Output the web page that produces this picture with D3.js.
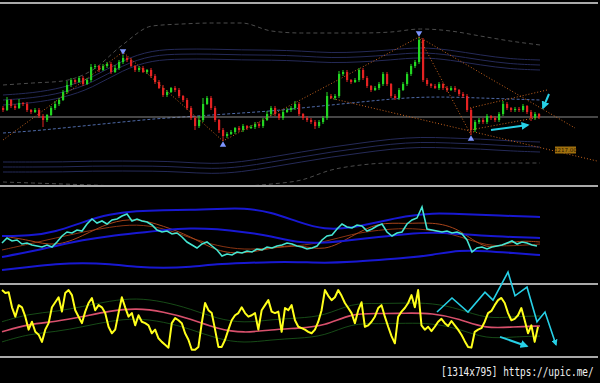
<!DOCTYPE html>
<html>
<head>
<meta charset="utf-8">
<script src="https://cdn.jsdelivr.net/npm/d3@7"></script>
<style>body{margin:0;background:#000}</style>
</head>
<body>
<div id="chart"></div>
<script>
// candle closes (open = previous close)
const closes = [1237,1242,1239,1238,1240.5,1240,1237,1236,1237,1234,
  1232,1234.5,1238,1240,1242,1246,1249.5,1252,1251,1253,
  1250,1252,1258.5,1259,1257,1259,1260,1256,1258,1261,
  1263,1262,1259,1257,1258,1256,1257,1254,1251,1248,
  1244.5,1246,1248,1247,1244,1242,1238,1233,1229,1232,
  1240,1243,1238,1232,1227,1224,1225,1226,1228,1227,
  1229,1228,1228.5,1230,1229,1232,1235,1238,1235,1233,
  1236,1237,1238,1240,1235,1233,1232,1231,1229,1231,
  1233,1244,1243,1244,1255,1256,1252,1251,1252,1257,
  1253,1249,1247,1248,1250,1255,1250,1244,1243,1247,
  1250,1255,1259,1261,1272,1252,1250,1249,1248,1250,
  1248,1247,1248,1247,1245,1244,1237,1227,1231,1232,
  1231,1234,1233,1232,1235,1240,1238,1237,1237.5,1237,
  1239,1236,1233,1235,1233.5]
const firstOpen = 1238
// wick length above / below the body
const wickUp = [1,1.5,0.5,1,2,0.5,1,0.5,1,1,
  1,0.5,1,1.5,1,1,2,1,0.5,1,
  1,1,1.5,1,0.5,1,1,1,1.5,1,
  1.5,1,1,0.5,1,1,0.5,1,1,1,
  1.5,1,0.5,1,1,0.5,1,1,1,2,
  3,1,1,1,0.5,1,1,1,0.5,1,
  1,0.5,1,1,1,1,1.5,1,1,0.5,
  1,1,1,1.5,1,0.5,1,1,1,1,
  1,2,1,1,1.5,1,1,0.5,1,1,
  1,1,0.5,1,1,1,1,0.5,1,1,
  1,1,1,1,1.5,1,1,0.5,1,1,
  0.5,1,1,1,0.5,1,1,1,1,1,
  1,1,0.5,1,1,1.5,1,0.5,1,1,
  1,0.5,1,1,0.5]
const wickDn = [1,0.5,1,1,0.5,1,1,1,0.5,1,
  3.5,1,0.5,1,1,0.5,1,1,1,0.5,
  1,0.5,1,1,1,0.5,1,1,0.5,1,
  1,1,0.5,1,1,0.5,1,1,1,0.5,
  1,1,0.5,1,1,1,1,1,2,1,
  1,0.5,1,1,1.5,2.5,1,0.5,1,1,
  1,1,0.5,1,1,1,0.5,1,1,1,
  1,0.5,1,1,1,1,1,1,1.5,1,
  1,1,0.5,1,1,1,1,1,0.5,1,
  1,1,1,0.5,1,1,1,1,1,1,
  0.5,1,1,1,1,1,1,1,0.5,1,
  1,1,0.5,1,1,1,1,2.5,1,1,
  1,1,1,1,1,1,1,1,1,1,
  1,1,1.5,1,1]

// price overlays (19 evenly spaced points across the chart)
const envUpper = [1249.5,1250.5,1251.5,1257,1269.5,1279,1280,1280.5,1280.5,1276.5,1275.5,1275.5,1275.5,1276,1277.5,1276.5,1274,1271.5,1269.5]
const envLower = [1201,1200.5,1200,1199.5,1199,1199,1199,1199,1199,1200,1202,1207,1209.5,1210.5,1210.5,1210.5,1210.5,1210.5,1210.5]
const bandHi1 = [1244.5,1245.5,1248,1253,1262,1267,1267.5,1267.5,1267,1267,1266.5,1265.5,1266,1267,1268.5,1267,1264.5,1262.5,1262]
const bandHi2 = [1242,1243,1245.5,1250.5,1259.5,1264.5,1265,1265,1264.5,1264.5,1264,1263,1263.5,1264.5,1266,1264.5,1262,1260,1259.5]
const bandHi3 = [1239.5,1240.5,1243,1248,1257,1262,1262.5,1262.5,1262,1262,1261.5,1260.5,1261,1262,1263.5,1262,1259.5,1257.5,1257]
const bandLo1 = [1211,1211,1211,1211.5,1211.5,1211.5,1211,1210,1211,1213.5,1216,1218.5,1220.5,1222.5,1223.5,1223,1222.5,1221.5,1221]
const bandLo2 = [1208.5,1208.5,1208.5,1209,1209,1209,1208.5,1207.5,1208.5,1211,1213.5,1216,1218,1220,1221,1220.5,1220,1219,1218.5]
const bandLo3 = [1206,1206,1206,1206.5,1206.5,1206.5,1206,1205,1206,1208.5,1211,1213.5,1215.5,1217.5,1218.5,1218,1217.5,1216.5,1216]
const midMA = [1225.5,1226.5,1228,1229.5,1231,1232.5,1233.5,1234.5,1235.5,1236.5,1238,1239.5,1241,1242.5,1243.5,1243.5,1243,1242.5,1242]

// zigzag pivots: [candle index, price]
const zigzag = [[0,1222],[30,1266],[55,1221.5],[104,1273.5],[117,1224.5]]
const trendLines = [
  [[81.75,1243],[148.5,1211.5]],
  [[104,1273.5],[143,1228]],
  [[116.75,1238],[136,1247]],
  [[116.75,1227],[134.25,1233.5]]
]
const fractalsHigh = [30,104]
const fractalsLow = [55,117]
const priceArrows = [[[122,1227],[131.25,1229.5]],[[136.5,1245],[135,1238]]]
const priceLabel = {i: 138, price: 1217, text: "1217.00"}

// RSI panel
const rsi = [47,52,49,50,46,47,45,44,43,45,
  43,48,54,58,57,60,59,66,71,67,
  69,66,70,71,74,76,69,71,69,68,
  65,60,58,59,56,57,53,48,45,42,
  46,48,44,40,34,36,35,38,37,39,
  38,41,40,43,42,44,45,47,46,44,
  43,41,42,44,50,54,55,61,66,63,
  62,65,64,59,61,64,66,58,54,57,
  58,66,70,72,83,61,60,59,58,59,
  57,58,56,50,38,42,43,41,43,44,
  45,47,49,46,48,47,45,44]
const rsiUpper = [54,54,58,68,76,79,80,80,81,82,78,68,60,62,68,74,77,76,75,74,73]
const rsiMid = [33,38,44,50,54,57,60,62,61,58,54,47,47,50,53,56,58,56,54,53,52]
const rsiLower = [20,23,26,27,26,23,22,23,26,27,28,28,27,28,30,32,35,40,39,37,35]
const rsiMaFast = [54,50,43,54,68,72,64,54,38,36,42,46,38,54,68,66,68,62,38,50,48]
const rsiMaSlow = [40,46,52,58,63,66,62,52,44,40,42,44,48,56,60,62,60,54,44,44,46]

// oscillator panel
const osc = [93,89,90,69,56,72,69,56,38,49, 35,31,21,38,47,69,76,83,63,89,
  93,86,65,56,47,63,75,82,65,72, 69,61,42,33,38,61,83,69,56,61,
  44,58,49,47,44,33,38,26,21,17, 13,47,54,51,47,33,24,10,10,14,
  47,75,65,61,38,14,14,24,38,51, 58,61,69,61,56,58,61,38,65,72,
  79,63,61,63,35,68,65,72,51,42,
  40,38,35,33,38,49,65,93,85,79, 83,93,85,75,68,61,47,65,76,42,
  44,49,56,68,72,56,42,29,19,56, 63,68,75,86,69,93,44,38,42,36,
  42,49,53,47,43,50,44,38,31,22, 14,13,35,38,40,49,61,64,72,79,
  82,75,61,51,53,58,68,51,33,44, 21,42]
const oscMA = [35,46,49,56,64,68,63,53,39,33,38,40,43,61,60,61,61,53,39,42,43]
const oscEnvUp = [49,60,63,70,78,82,77,67,53,47,52,54,57,75,74,75,75,67,53,56,57]
const oscEnvDn = [21,32,35,42,50,54,49,39,25,19,24,26,29,47,46,47,47,39,25,28,29]
const oscZig = [[108.5,62.5],[112.25,82],[116.25,62.5],[120.5,90],[122.5,79],[126.25,118],[128,85],[131,97],[133.5,49],[135.5,62.5],[138.25,17]]
const oscArrow = [[124.25,28],[131,15]]

const width = 600
const height = 383

const svg = d3.select("#chart").append("svg")
  .attr("width", width).attr("height", height)
  .style("display", "block")
svg.append("rect").attr("width", width).attr("height", height).attr("fill", "#000")

const defs = svg.append("defs")
defs.append("marker").attr("id", "arr")
  .attr("viewBox", "0 0 10 10").attr("refX", 8).attr("refY", 5)
  .attr("markerWidth", 4).attr("markerHeight", 4).attr("orient", "auto")
  .append("path").attr("d", "M0,0L10,5L0,10z").attr("fill", "#27d0e6")
defs.append("clipPath").attr("id", "clipP")
  .append("rect").attr("x", 0).attr("y", 5).attr("width", 598).attr("height", 180)

// scales
const xScale = d3.scaleLinear().domain([0, closes.length - 1]).range([3, 539])
const xBand = d3.scaleLinear().domain([0, envUpper.length - 1]).range([3, 540])
const yPrice = d3.scaleLinear().domain([1199, 1290]).range([186, 4])

const xRsi = d3.scaleLinear().domain([0, rsi.length - 1]).range([2, 537])
const xRsiBand = d3.scaleLinear().domain([0, rsiUpper.length - 1]).range([2, 540])
const yRsi = d3.scaleLinear().domain([0, 100]).range([290, 190])

const xOsc = d3.scaleLinear().domain([0, osc.length - 1]).range([2, 538])
const xOscBand = d3.scaleLinear().domain([0, oscMA.length - 1]).range([2, 540])
const yOsc = d3.scaleLinear().domain([0, 100]).range([357, 285])

// panel separators
const seps = [3, 186, 284, 357]
svg.selectAll(".sep").data(seps).join("rect")
  .attr("x", 0).attr("y", d => d - 1).attr("width", 598).attr("height", 2)
  .attr("fill", "#a9a9a9")

// ---------- price panel ----------
const p1 = svg.append("g").attr("clip-path", "url(#clipP)")

function bandLine(g, arr, xs, ys, color, w, dash, curve) {
  g.append("path").datum(arr)
    .attr("fill", "none").attr("stroke", color).attr("stroke-width", w)
    .attr("stroke-dasharray", dash || null)
    .attr("d", d3.line().x((d, i) => xs(i)).y(d => ys(d)).curve(curve || d3.curveBasis))
}

bandLine(p1, envUpper, xBand, yPrice, "#4c4c4c", 1, "4,3", d3.curveMonotoneX)
bandLine(p1, envLower, xBand, yPrice, "#4c4c4c", 1, "4,3", d3.curveMonotoneX)
;[bandHi1, bandHi2, bandHi3, bandLo1, bandLo2, bandLo3].forEach(b =>
  bandLine(p1, b, xBand, yPrice, "#252a58", 1))
bandLine(p1, midMA, xBand, yPrice, "#4f6aa8", 1, "3,2")

// current price line
p1.append("line")
  .attr("x1", 0).attr("x2", 598)
  .attr("y1", yPrice(closes[closes.length - 1])).attr("y2", yPrice(closes[closes.length - 1]))
  .attr("stroke", "#8c8c8c").attr("stroke-width", 1)

// candles
const candles = closes.map((c, i) => {
  const o = i === 0 ? firstOpen : closes[i - 1]
  return {i, o, c, h: Math.max(o, c) + wickUp[i], l: Math.min(o, c) - wickDn[i]}
})
const candleColor = d => d.c >= d.o ? "#22d622" : "#e42222"

p1.selectAll(".wick").data(candles).join("line")
  .attr("x1", d => xScale(d.i)).attr("x2", d => xScale(d.i))
  .attr("y1", d => yPrice(d.h)).attr("y2", d => yPrice(d.l))
  .attr("stroke", candleColor).attr("stroke-width", 1)
p1.selectAll(".body").data(candles).join("rect")
  .attr("x", d => xScale(d.i) - 1).attr("width", 2.2)
  .attr("y", d => yPrice(Math.max(d.o, d.c)))
  .attr("height", d => Math.max(1, Math.abs(yPrice(d.o) - yPrice(d.c))))
  .attr("fill", candleColor)

// zigzag and trend lines
const orange = "#c8641e"
p1.append("path").datum(zigzag)
  .attr("fill", "none").attr("stroke", orange).attr("stroke-width", 1)
  .attr("stroke-dasharray", "1,2")
  .attr("d", d3.line().x(d => xScale(d[0])).y(d => yPrice(d[1])))
p1.selectAll(".trend").data(trendLines).join("path")
  .attr("fill", "none").attr("stroke", orange).attr("stroke-width", 1)
  .attr("stroke-dasharray", "1,2")
  .attr("d", d3.line().x(d => xScale(d[0])).y(d => yPrice(d[1])))

// fractal markers
const fracColor = "#7d95ff"
p1.selectAll(".fh").data(fractalsHigh).join("path")
  .attr("transform", i => `translate(${xScale(i)},${yPrice(candles[i].h) - 4}) rotate(180)`)
  .attr("d", d3.symbol(d3.symbolTriangle, 18))
  .attr("fill", fracColor)
p1.selectAll(".fl").data(fractalsLow).join("path")
  .attr("transform", i => `translate(${xScale(i)},${yPrice(candles[i].l) + 4})`)
  .attr("d", d3.symbol(d3.symbolTriangle, 18))
  .attr("fill", fracColor)

// cyan arrows
svg.selectAll(".parr").data(priceArrows).join("line")
  .attr("x1", d => xScale(d[0][0])).attr("y1", d => yPrice(d[0][1]))
  .attr("x2", d => xScale(d[1][0])).attr("y2", d => yPrice(d[1][1]))
  .attr("stroke", "#27d0e6").attr("stroke-width", 2)
  .attr("marker-end", "url(#arr)")

// price label
const lab = svg.append("g")
  .attr("transform", `translate(${xScale(priceLabel.i)},${yPrice(priceLabel.price)})`)
lab.append("rect").attr("x", 0).attr("y", -3.5).attr("width", 21).attr("height", 7)
  .attr("fill", "#a0700e")
lab.append("text").attr("x", 10.5).attr("y", 2)
  .attr("text-anchor", "middle").attr("font-family", "DejaVu Sans").attr("font-size", 5.5)
  .attr("fill", "#2a1a00").text(priceLabel.text)

// ---------- RSI panel ----------
const p2 = svg.append("g")
bandLine(p2, rsiMaSlow, xRsiBand, yRsi, "#8a3412", 1)
bandLine(p2, rsiMaFast, xRsiBand, yRsi, "#a8441a", 1)
;[rsiUpper, rsiMid, rsiLower].forEach(b => bandLine(p2, b, xRsiBand, yRsi, "#1818d2", 2))
p2.append("path").datum(rsi)
  .attr("fill", "none").attr("stroke", "#45e6d2").attr("stroke-width", 1.6)
  .attr("d", d3.line().x((d, i) => xRsi(i)).y(d => yRsi(d)))

// ---------- oscillator panel ----------
const p3 = svg.append("g")
bandLine(p3, oscEnvUp, xOscBand, yOsc, "#1d5e1d", 0.8)
bandLine(p3, oscEnvDn, xOscBand, yOsc, "#1d5e1d", 0.8)
bandLine(p3, oscMA, xOscBand, yOsc, "#d8506c", 1.6)
p3.append("path").datum(osc)
  .attr("fill", "none").attr("stroke", "#ffff1a").attr("stroke-width", 2)
  .attr("stroke-linejoin", "round")
  .attr("d", d3.line().x((d, i) => xOsc(i)).y(d => yOsc(d)))
p3.append("path").datum(oscZig)
  .attr("fill", "none").attr("stroke", "#27d0e6").attr("stroke-width", 1.6)
  .attr("marker-end", "url(#arr)")
  .attr("d", d3.line().x(d => xScale(d[0])).y(d => yOsc(d[1])))
p3.append("line")
  .attr("x1", xScale(oscArrow[0][0])).attr("y1", yOsc(oscArrow[0][1]))
  .attr("x2", xScale(oscArrow[1][0])).attr("y2", yOsc(oscArrow[1][1]))
  .attr("stroke", "#27d0e6").attr("stroke-width", 2)
  .attr("marker-end", "url(#arr)")

// watermark
svg.append("text")
  .attr("transform", "translate(441,376) scale(1,1.25)")
  .attr("font-family", "DejaVu Sans Mono").attr("font-size", 9.4)
  .attr("fill", "#efefef")
  .text("[1314x795] https://upic.me/")
</script>
</body>
</html>
